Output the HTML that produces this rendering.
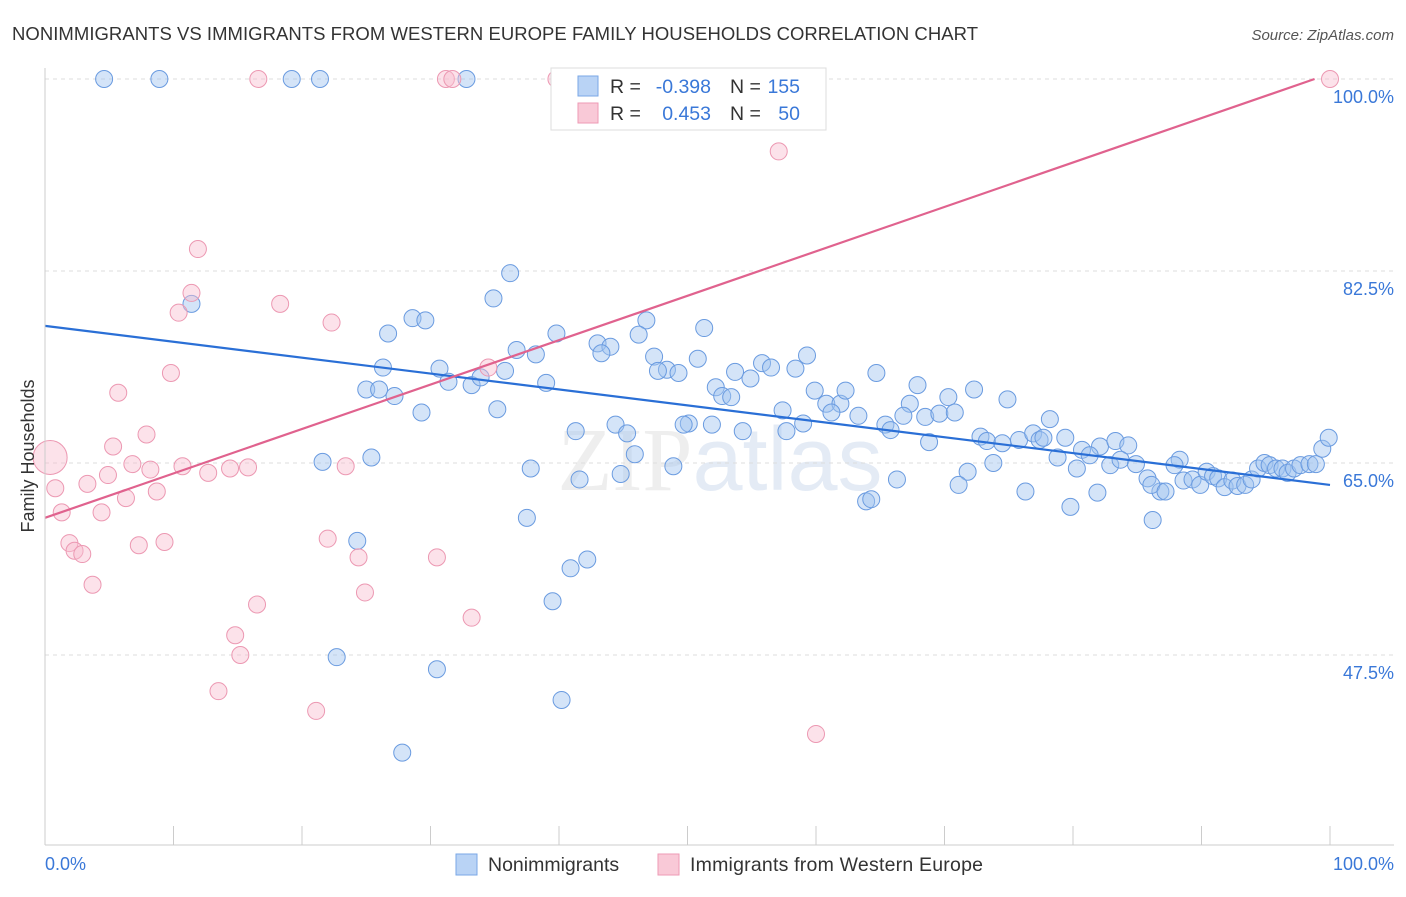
<!DOCTYPE html>
<html><head><meta charset="utf-8"><style>
body{margin:0;background:#fff;font-family:"Liberation Sans",sans-serif}
</style></head><body>
<svg width="1406" height="892" xmlns="http://www.w3.org/2000/svg">
<text x="12" y="40" font-size="18.5" fill="#333" textLength="966">NONIMMIGRANTS VS IMMIGRANTS FROM WESTERN EUROPE FAMILY HOUSEHOLDS CORRELATION CHART</text>
<text x="1394" y="40" font-size="15" fill="#555" text-anchor="end" font-style="italic">Source: ZipAtlas.com</text>
<text x="720" y="490" font-size="90" fill="#e4e4e4" text-anchor="middle" font-family="Liberation Serif" opacity="0.6">ZIP<tspan fill="#d3dff0" font-family="Liberation Sans">atlas</tspan></text>
<g id="grid"></g><g id="pts"></g><g id="lines"></g>
<line x1="45" y1="68" x2="45" y2="845" stroke="#ccc"/>
<line x1="45" y1="845" x2="1394" y2="845" stroke="#ccc"/>
<text transform="translate(34,456) rotate(-90)" font-size="18" fill="#333" text-anchor="middle">Family Households</text>
<text x="45" y="870" font-size="18" fill="#3a78d8">0.0%</text>
<text x="1394" y="870" font-size="18" fill="#3a78d8" text-anchor="end">100.0%</text>
<g>
<rect x="551" y="68" width="275" height="62" fill="#fff" stroke="#ddd"/>
<rect x="578" y="76" width="20" height="20" fill="#b9d3f5" stroke="#7aa7e6"/>
<rect x="578" y="103" width="20" height="20" fill="#f9c9d7" stroke="#ee9ab4"/>
<text x="610" y="93" font-size="19.5" fill="#333">R =</text>
<text x="711" y="93" font-size="19.5" fill="#3a78d8" text-anchor="end">-0.398</text>
<text x="730" y="93" font-size="19.5" fill="#333">N =</text>
<text x="800" y="93" font-size="19.5" fill="#3a78d8" text-anchor="end">155</text>
<text x="610" y="120" font-size="19.5" fill="#333">R =</text>
<text x="711" y="120" font-size="19.5" fill="#3a78d8" text-anchor="end">0.453</text>
<text x="730" y="120" font-size="19.5" fill="#333">N =</text>
<text x="800" y="120" font-size="19.5" fill="#3a78d8" text-anchor="end">50</text>
</g>
<g>
<rect x="456" y="854" width="21" height="21" fill="#b9d3f5" stroke="#7aa7e6"/>
<text x="488" y="871" font-size="19.5" fill="#333">Nonimmigrants</text>
<rect x="658" y="854" width="21" height="21" fill="#f9c9d7" stroke="#ee9ab4"/>
<text x="690" y="871" font-size="19.5" fill="#333" textLength="293">Immigrants from Western Europe</text>
</g>
</svg>
<script>
const yTicks=[100,82.5,65,47.5];
const xTicks=[0,10,20,30,40,50,60,70,80,90,100];
const bluePx=[[104,79],[160,79],[292,79],[320,79],[466,79],[191,304],[510,273],[494,298],[412,318],[426,320],[388,334],[556,334],[647,320],[639,335],[704,328],[597,343],[610,347],[602,353],[516,350],[536,354],[654,357],[698,359],[667,370],[658,371],[679,373],[762,363],[771,368],[751,378],[735,372],[807,355],[795,369],[877,373],[383,368],[440,369],[449,382],[471,385],[480,377],[505,371],[546,383],[366,390],[379,390],[395,396],[421,413],[497,409],[716,387],[722,396],[731,397],[782,410],[815,391],[826,404],[840,404],[846,391],[917,385],[948,397],[974,390],[1007,399],[831,413],[858,416],[910,404],[904,416],[925,417],[940,414],[955,413],[885,425],[890,430],[803,424],[787,431],[743,431],[712,425],[689,423],[684,425],[616,425],[627,433],[576,431],[635,454],[674,466],[621,474],[580,479],[531,468],[323,462],[371,457],[929,442],[981,437],[987,441],[1002,443],[1019,440],[1033,433],[1040,440],[1044,438],[1050,419],[1065,438],[1082,450],[1100,447],[1115,441],[1128,445],[1058,458],[1090,455],[1110,465],[1120,460],[1136,464],[1077,468],[993,463],[968,472],[959,485],[897,479],[866,501],[871,499],[1026,491],[1071,507],[1097,493],[1147,478],[1160,491],[1152,485],[1180,460],[1175,465],[1183,481],[1193,479],[1200,485],[1206,472],[1213,476],[1218,478],[1224,487],[1232,480],[1238,486],[1245,485],[1251,479],[1258,468],[1264,463],[1270,465],[1276,469],[1283,468],[1288,473],[1294,468],[1300,465],[1309,464],[1316,464],[1322,449],[1329,438],[1153,520],[527,518],[357,541],[570,568],[587,559],[553,601],[337,657],[437,669],[561,700],[402,753],[1166,491]];
const pinkPx=[[258,79],[446,79],[452,79],[557,79],[662,79],[1330,79],[779,151],[198,249],[191,293],[178,313],[280,304],[332,323],[171,373],[118,393],[146,434],[113,446],[55,488],[62,512],[87,484],[101,512],[108,475],[126,498],[133,464],[150,470],[157,492],[183,466],[208,473],[230,469],[248,467],[346,466],[488,368],[69,543],[75,551],[82,554],[139,545],[165,542],[328,539],[358,557],[437,557],[93,585],[365,592],[257,604],[471,618],[235,635],[240,655],[219,691],[316,711],[816,734]];
const toData=p=>[+((p[0]-45)/12.85).toFixed(1),+(100-(p[1]-79)/10.971).toFixed(1)];
const blueX=bluePx.map(p=>toData(p)[0]), blueY=bluePx.map(p=>toData(p)[1]);
const pinkX=pinkPx.map(p=>toData(p)[0]).concat([0.4]), pinkY=pinkPx.map(p=>toData(p)[1]).concat([65.5]);
const pinkR=pinkPx.map(()=>8.5).concat([17]);
const blueTrend=[[0,77.5],[100,63]];
const pinkTrend=[[0,60],[98.8,100]];
const X=v=>45+v*12.85, Y=v=>79+(100-v)*10.971;
const NS='http://www.w3.org/2000/svg';
function mk(tag,at,parent){const e=document.createElementNS(NS,tag);for(const k in at)e.setAttribute(k,at[k]);parent.appendChild(e);return e;}
const grid=document.getElementById('grid');
yTicks.forEach(t=>{const l=mk('line',{x1:45,x2:1394,y1:Y(t),y2:Y(t),stroke:'#ddd','stroke-dasharray':'4,4'},grid);


const tx=mk('text',{x:1394,y:Y(t)+24,'font-size':18,fill:'#3a78d8','text-anchor':'end'},grid);tx.textContent=t.toFixed(1)+'%';

});
xTicks.forEach(t=>{const l=mk('line',{x1:X(t),x2:X(t),y1:826,y2:845,stroke:'#ccc'},grid);

});
const pts=document.getElementById('pts');
blueX.forEach((x,i)=>{const c=mk('circle',{cx:X(x),cy:Y(blueY[i]),r:8.5,fill:'rgba(160,195,240,0.45)',stroke:'#6a9be0','stroke-width':1},pts);

});
pinkX.forEach((x,i)=>{const c=mk('circle',{cx:X(x),cy:Y(pinkY[i]),r:pinkR[i],fill:'rgba(248,190,208,0.45)',stroke:'#ec98b2','stroke-width':1},pts);

});
const lines=document.getElementById('lines');
const bl=mk('line',{x1:X(blueTrend[0][0]),y1:Y(blueTrend[0][1]),x2:X(blueTrend[1][0]),y2:Y(blueTrend[1][1]),stroke:'#2a6fd6','stroke-width':2.2},lines);


const pl=mk('line',{x1:X(pinkTrend[0][0]),y1:Y(pinkTrend[0][1]),x2:X(pinkTrend[1][0]),y2:Y(pinkTrend[1][1]),stroke:'#e0628e','stroke-width':2.2},lines);


</script>
</body></html>
